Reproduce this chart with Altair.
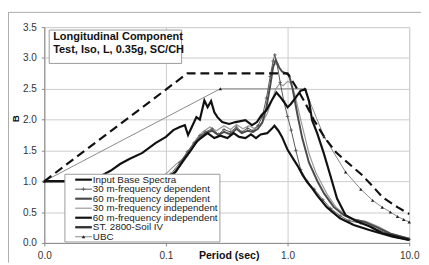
import altair as alt
import pandas as pd

FONT = "Liberation Sans"

period_ticks = [0.01, 0.1, 1.0, 10.0]
b_ticks = [0.0, 0.5, 1.0, 1.5, 2.0, 2.5, 3.0, 3.5]

legend_names = [
    "Input Base Spectra",
    "30 m-frequency dependent",
    "60 m-frequency dependent",
    "30 m-frequency independent",
    "60 m-frequency independent",
    "ST. 2800-Soil IV",
    "UBC",
]

title_lines = ["Longitudinal Component", "Test, Iso, L, 0.35g, SC/CH"]

# Input Base Spectra
input_T = [0.01, 0.03, 0.06, 0.085, 0.1, 0.12, 0.14, 0.16, 0.18, 0.2, 0.22, 0.25, 0.28, 0.32,
           0.36, 0.4, 0.45, 0.5, 0.55, 0.6, 0.68, 0.74, 0.78, 0.84, 0.9, 1.0, 1.1, 1.21, 1.33,
           1.46, 1.6, 1.75, 2.1, 2.7, 3.5, 4.7, 7.3, 10.0]
input_B = [1.0, 1.0, 1.0, 1.0, 1.03, 1.15, 1.35, 1.5, 1.65, 1.72, 1.78, 1.7, 1.74, 1.7,
           1.78, 1.72, 1.7, 1.76, 1.7, 1.76, 1.78, 1.85, 1.9, 1.82, 1.72, 1.51, 1.38, 1.25, 1.1,
           0.98, 0.88, 0.77, 0.58, 0.4, 0.29, 0.21, 0.1, 0.05]

# 30 m - frequency dependent
fd30_T = [0.01, 0.05, 0.09, 0.11, 0.13, 0.15, 0.17, 0.19, 0.21, 0.24, 0.27, 0.3, 0.34, 0.38,
          0.42, 0.47, 0.52, 0.57, 0.62, 0.67, 0.72, 0.76, 0.785, 0.82, 0.87, 0.93, 1.0, 1.07,
          1.17, 1.28, 1.45, 1.66, 1.95, 2.26, 2.7, 3.2, 4.0, 5.0, 6.5, 8.0, 10.0]
fd30_B = [1.0, 1.0, 1.02, 1.12, 1.3, 1.48, 1.62, 1.74, 1.8, 1.85, 1.76, 1.84, 1.8, 1.88,
          1.8, 1.86, 1.82, 1.9, 2.05, 2.35, 2.7, 2.95, 3.05, 2.9, 2.6, 2.3, 2.05, 1.83,
          1.5, 1.19, 1.0, 0.87, 0.7, 0.56, 0.44, 0.36, 0.32, 0.25, 0.16, 0.1, 0.06]

# 60 m - frequency dependent
fd60_T = [0.01, 0.05, 0.09, 0.11, 0.13, 0.15, 0.17, 0.19, 0.21, 0.24, 0.27, 0.3, 0.34, 0.38,
          0.42, 0.47, 0.52, 0.57, 0.62, 0.67, 0.72, 0.76, 0.8, 0.85, 0.9, 0.97, 1.03, 1.1,
          1.2, 1.32, 1.5, 1.76, 2.0, 2.4, 2.9, 3.5, 4.3, 5.5, 7.0, 10.0]
fd60_B = [1.0, 1.0, 1.0, 1.08, 1.25, 1.42, 1.58, 1.7, 1.78, 1.82, 1.75, 1.8, 1.76, 1.85,
          1.78, 1.82, 1.8, 1.85, 1.95, 2.2, 2.55, 2.85, 2.97, 2.85, 2.78, 2.75, 2.72, 2.5,
          2.1, 1.7, 1.3, 1.0, 0.8, 0.58, 0.45, 0.38, 0.34, 0.25, 0.15, 0.07]

# 30 m - frequency independent
fi30_T = [0.01, 0.05, 0.08, 0.1, 0.12, 0.14, 0.16, 0.18, 0.2, 0.23, 0.26, 0.3, 0.34, 0.38,
          0.43, 0.48, 0.53, 0.58, 0.63, 0.68, 0.74, 0.8, 0.86, 0.92, 1.0, 1.06, 1.15, 1.3,
          1.5, 1.7, 1.86, 2.1, 2.5, 3.0, 3.6, 4.4, 5.5, 7.0, 10.0]
fi30_B = [1.0, 1.0, 1.02, 1.12, 1.27, 1.38, 1.55, 1.7, 1.8, 1.88, 1.82, 1.9, 1.84, 1.92,
          1.85, 1.9, 1.86, 1.9, 1.98, 2.1, 2.3, 2.5, 2.58, 2.55, 2.62, 2.6, 2.4, 1.95,
          1.45, 1.15, 1.0, 0.8, 0.58, 0.45, 0.38, 0.35, 0.27, 0.16, 0.07]

# 60 m - frequency independent
fi60_T = [0.01, 0.02, 0.025, 0.03, 0.035, 0.042, 0.05, 0.064, 0.082, 0.1, 0.115, 0.13, 0.143,
          0.152, 0.165, 0.178, 0.19, 0.207, 0.22, 0.235, 0.25, 0.265, 0.29, 0.33, 0.374, 0.45,
          0.51, 0.56, 0.61, 0.67, 0.74, 0.81, 0.86, 0.94, 1.0, 1.06, 1.17, 1.28, 1.4, 1.5,
          1.59, 1.75, 1.98, 2.25, 2.55, 3.0, 3.7, 4.7, 6.0, 10.0]
fi60_B = [1.0, 1.0, 1.04, 1.1, 1.17, 1.28, 1.36, 1.46, 1.62, 1.72, 1.83, 1.88, 1.91,
          1.75, 1.9, 2.04, 2.0, 2.31, 2.2, 2.3, 2.12, 2.04, 1.96, 1.93, 1.96, 1.99,
          1.91, 1.96, 2.07, 2.15, 2.31, 2.44, 2.38, 2.28, 2.2, 2.25, 2.36, 2.47, 2.49, 2.3,
          1.99, 1.78, 1.46, 1.09, 0.72, 0.45, 0.35, 0.27, 0.16, 0.05]

# ST. 2800 - Soil IV design spectrum
st_T = [0.01, 0.15, 1.0, 1.14, 1.37, 1.65, 2.0, 2.5, 3.0, 4.05, 5.0, 6.05, 8.0, 10.0]
st_B = [1.0, 2.75, 2.75, 2.57, 2.3, 1.99, 1.72, 1.47, 1.33, 1.11, 0.92, 0.74, 0.58, 0.47]

# UBC design spectrum
ubc_T = [0.01, 0.28, 1.38, 2.0, 3.0, 4.0, 5.0, 6.0, 7.0, 8.0, 9.0, 10.0]
ubc_B = [1.0, 2.5, 2.5, 1.72, 1.15, 0.87, 0.69, 0.58, 0.5, 0.43, 0.38, 0.34]


def frame(T, B):
    return pd.DataFrame({"T": T, "B": B})


xs = alt.Scale(type="log", domain=[0.01, 10], nice=False)
ys = alt.Scale(domain=[0, 3.5], nice=False, zero=False)

x_axis = alt.Axis(values=period_ticks, format=".1f", title="Period (sec)",
                  titleX=188, titleY=13, titleBaseline="middle", titleAlign="center",
                  titleFontWeight="bold", titleFontSize=10.8, titleColor="#111",
                  labelFontSize=10.2, labelPadding=5, labelFlush=False, labelOverlap=False,
                  tickSize=3, tickColor="#888", domainColor="#888", labelColor="#333",
                  grid=True, gridColor="#cccccc", gridWidth=1,
                  labelFont=FONT, titleFont=FONT)
y_axis = alt.Axis(values=b_ticks, format=".1f", title="B",
                  titleAngle=270, titleX=-29, titleY=93, titleBaseline="middle",
                  titleAlign="center", titleFontWeight="bold", titleFontSize=10,
                  titleColor="#111",
                  labelFontSize=10.2, labelPadding=5, labelFlush=False, labelOverlap=False,
                  tickSize=3, tickColor="#888", domainColor="#888", labelColor="#333",
                  grid=True, gridColor="#cccccc", gridWidth=1,
                  labelFont=FONT, titleFont=FONT)

X = alt.X("T:Q", scale=xs, axis=x_axis)
Y = alt.Y("B:Q", scale=ys, axis=y_axis)


def line(T, B, **kw):
    return alt.Chart(frame(T, B)).mark_line(**kw).encode(x=X, y=Y)


def pts(T, B, **kw):
    return alt.Chart(frame(T, B)).mark_point(**kw).encode(x=X, y=Y)


PLUS = "M-1,0L1,0M0,-1L0,1"

data_layer = alt.layer(
    line(fi30_T, fi30_B, color="#9a9a9a", strokeWidth=1.2),
    line(ubc_T, ubc_B, color="#888888", strokeWidth=1),
    pts(ubc_T, ubc_B, shape="triangle-up", size=12, filled=True, color="#222", opacity=1),
    line(fd60_T, fd60_B, color="#4a4a4a", strokeWidth=2),
    line(fd30_T, fd30_B, color="#555555", strokeWidth=1),
    pts(fd30_T, fd30_B, shape=PLUS, size=14, filled=False, color="#555", strokeWidth=0.8, opacity=1),
    line(input_T, input_B, color="#111111", strokeWidth=2.2),
    line(fi60_T, fi60_B, color="#111111", strokeWidth=2.2),
    line(st_T, st_B, color="#111111", strokeWidth=2.2, strokeDash=[9, 5]),
)

# legend drawn with its own point scale
leg_df = pd.DataFrame({"name": legend_names})
LY = alt.Y("name:N", axis=None,
           scale=alt.Scale(type="point", domain=legend_names, range=[155.5, 213.7], padding=0))

leg_styles = [
    dict(color="#111111", strokeWidth=2.2),
    dict(color="#555555", strokeWidth=1),
    dict(color="#4a4a4a", strokeWidth=2.2),
    dict(color="#9a9a9a", strokeWidth=1.2),
    dict(color="#111111", strokeWidth=2.2),
    dict(color="#333333", strokeWidth=2.4),
    dict(color="#888888", strokeWidth=1),
]

leg_layers = []
for name, sty in zip(legend_names, leg_styles):
    leg_layers.append(
        alt.Chart(leg_df[leg_df["name"] == name]).mark_rule(**sty).encode(
            x=alt.value(31.5), x2=alt.value(48.5), y=LY)
    )
leg_layers.append(
    alt.Chart(leg_df[leg_df["name"] == legend_names[1]]).mark_point(
        shape=PLUS, size=14, filled=False, color="#555", strokeWidth=0.8, opacity=1).encode(
        x=alt.value(40), y=LY)
)
leg_layers.append(
    alt.Chart(leg_df[leg_df["name"] == legend_names[6]]).mark_point(
        shape="triangle-up", size=14, filled=True, color="#222", opacity=1).encode(
        x=alt.value(40), y=LY)
)
leg_layers.append(
    alt.Chart(leg_df).mark_text(align="left", baseline="middle", fontSize=10, font=FONT,
                                color="#222").encode(x=alt.value(49.5), y=LY, text="name:N")
)
legend_layer = alt.layer(*leg_layers)

one = pd.DataFrame({"k": [0]})
legend_box = alt.Chart(one).mark_rect(fill="white", stroke="#9a9a9a", strokeWidth=1).encode(
    x=alt.value(21), x2=alt.value(179), y=alt.value(150), y2=alt.value(219))
title_box = alt.Chart(one).mark_rect(fill="white", stroke="#9a9a9a", strokeWidth=1).encode(
    x=alt.value(5), x2=alt.value(140), y=alt.value(3), y2=alt.value(37))

title_df = pd.DataFrame({"line": title_lines, "row": [0, 1]})
title_text = alt.Chart(title_df).mark_text(
    align="left", baseline="middle", fontSize=11.2, fontWeight="bold", font=FONT, color="#111"
).encode(
    x=alt.value(9),
    y=alt.Y("row:O", axis=None, scale=alt.Scale(type="point", domain=[0, 1], range=[10.5, 23.5], padding=0)),
    text="line:N",
)

frame_top = alt.Chart(one).mark_rule(color="#aaaaaa", strokeWidth=1).encode(
    x=alt.value(-37), x2=alt.value(384), y=alt.value(-15))
frame_left = alt.Chart(one).mark_rule(color="#aaaaaa", strokeWidth=1).encode(
    x=alt.value(-36.5), y=alt.value(-15), y2=alt.value(240))

chart = alt.layer(
    data_layer, legend_box, legend_layer, title_box, title_text, frame_top, frame_left
).resolve_scale(
    x="independent", y="independent"
).properties(
    width=372, height=220,
    autosize=alt.AutoSizeParams(type="none"),
    padding={"left": 37, "top": 17, "right": 12, "bottom": 20},
).configure_view(stroke=None).configure(font=FONT, background="white")

chart.save("out.html", embed_options={"renderer": "svg", "actions": False})
